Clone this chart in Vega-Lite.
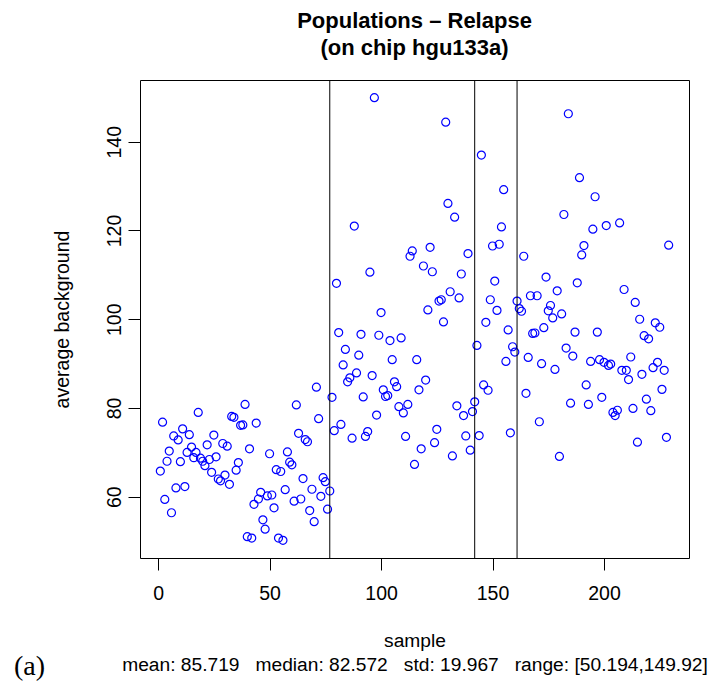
{
  "$schema": "https://vega.github.io/schema/vega-lite/v6.json",
  "width": 549,
  "height": 478,
  "autosize": {"type": "none"},
  "padding": {"left": 140, "top": 80, "right": 21, "bottom": 126},
  "background": "white",
  "title": {
    "text": ["Populations – Relapse", "(on chip hgu133a)"],
    "font": "Liberation Sans",
    "fontSize": 22,
    "fontWeight": "bold",
    "color": "black",
    "anchor": "middle",
    "frame": "group",
    "baseline": "bottom",
    "lineHeight": 27,
    "offset": 23,
    "dy": 25
  },
  "config": {
    "view": {"stroke": "black", "strokeWidth": 1},
    "font": "Liberation Sans",
    "axis": {
      "grid": false,
      "domain": false,
      "tickColor": "black",
      "tickSize": 12,
      "tickWidth": 1,
      "labelColor": "black",
      "labelFont": "Liberation Sans",
      "labelFontSize": 19.5,
      "labelFlush": false,
      "labelOverlap": false,
      "titleColor": "black",
      "titleFont": "Liberation Sans",
      "titleFontSize": 19.2,
      "titleFontWeight": "normal"
    }
  },
  "resolve": {"axis": {"x": "independent"}},
  "layer": [
    {
      "data": {"values": [
        {"s":1,"v":65.8},{"s":2,"v":76.8},{"s":3,"v":59.4},{"s":4,"v":68},{"s":5,"v":70.3},{"s":6,"v":56.4},{"s":7,"v":73.7},{"s":8,"v":62},{"s":9,"v":72.8},{"s":10,"v":67.9},
        {"s":11,"v":75.3},{"s":12,"v":62.3},{"s":13,"v":70},{"s":14,"v":74},{"s":15,"v":71.2},{"s":16,"v":68.8},{"s":17,"v":70},{"s":18,"v":79},{"s":19,"v":68.7},{"s":20,"v":68},
        {"s":21,"v":67},{"s":22,"v":71.7},{"s":23,"v":68.4},{"s":24,"v":65.5},{"s":25,"v":73.9},{"s":26,"v":69},{"s":27,"v":64},{"s":28,"v":63.6},{"s":29,"v":72},{"s":30,"v":64.9},
        {"s":31,"v":71.4},{"s":32,"v":62.8},{"s":33,"v":78.1},{"s":34,"v":77.9},{"s":35,"v":66},{"s":36,"v":67.7},{"s":37,"v":76.1},{"s":38,"v":76.2},{"s":39,"v":80.8},{"s":40,"v":51},
        {"s":41,"v":70.8},{"s":42,"v":50.7},{"s":43,"v":58.3},{"s":44,"v":76.6},{"s":45,"v":59.5},{"s":46,"v":61},{"s":47,"v":54.8},{"s":48,"v":52.7},{"s":49,"v":60.2},{"s":50,"v":69.7},
        {"s":51,"v":60.4},{"s":52,"v":57.5},{"s":53,"v":66.1},{"s":54,"v":50.7},{"s":55,"v":65.7},{"s":56,"v":50.194},{"s":57,"v":61.6},{"s":58,"v":70.1},{"s":59,"v":67.8},{"s":60,"v":67.2},
        {"s":61,"v":59},{"s":62,"v":80.7},{"s":63,"v":74.3},{"s":64,"v":59.5},{"s":65,"v":64.1},{"s":66,"v":72.9},{"s":67,"v":72.4},{"s":68,"v":56.9},{"s":69,"v":61.7},{"s":70,"v":54.4},
        {"s":71,"v":84.7},{"s":72,"v":77.6},{"s":73,"v":60.1},{"s":74,"v":64.3},{"s":75,"v":63.4},{"s":76,"v":57.2},{"s":77,"v":61.3},{"s":78,"v":82.4},{"s":79,"v":74.9},{"s":80,"v":108.1},
        {"s":81,"v":97},{"s":82,"v":76.3},{"s":83,"v":89.7},{"s":84,"v":93.2},{"s":85,"v":85.9},{"s":86,"v":86.8},{"s":87,"v":73.2},{"s":88,"v":121},{"s":89,"v":87.9},{"s":90,"v":91.9},
        {"s":91,"v":96.6},{"s":92,"v":82.5},{"s":93,"v":73.6},{"s":94,"v":74.7},{"s":95,"v":110.6},{"s":96,"v":87.3},{"s":97,"v":149.92},{"s":98,"v":78.4},{"s":99,"v":96.4},{"s":100,"v":101.5},
        {"s":101,"v":84.1},{"s":102,"v":82.6},{"s":103,"v":82.8},{"s":104,"v":95.2},{"s":105,"v":90.9},{"s":106,"v":85.9},{"s":107,"v":84.8},{"s":108,"v":80.3},{"s":109,"v":95.8},{"s":110,"v":78.9},
        {"s":111,"v":73.6},{"s":112,"v":80.8},{"s":113,"v":114.2},{"s":114,"v":115.4},{"s":115,"v":67.3},{"s":116,"v":90.9},{"s":117,"v":84.1},{"s":118,"v":70.8},{"s":119,"v":112},{"s":120,"v":86.3},
        {"s":121,"v":102.1},{"s":122,"v":116.2},{"s":123,"v":110.7},{"s":124,"v":72.2},{"s":125,"v":75.2},{"s":126,"v":104.1},{"s":127,"v":104.4},{"s":128,"v":99.4},{"s":129,"v":144.4},{"s":130,"v":126.1},
        {"s":131,"v":106.2},{"s":132,"v":69.2},{"s":133,"v":123},{"s":134,"v":80.5},{"s":135,"v":104.8},{"s":136,"v":110.2},{"s":137,"v":78.3},{"s":138,"v":73.7},{"s":139,"v":114.8},{"s":140,"v":70.5},
        {"s":141,"v":79.2},{"s":142,"v":81.4},{"s":143,"v":94.1},{"s":144,"v":73.8},{"s":145,"v":137},{"s":146,"v":85.2},{"s":147,"v":99.3},{"s":148,"v":84},{"s":149,"v":104.4},{"s":150,"v":116.5},
        {"s":151,"v":108.6},{"s":152,"v":102},{"s":153,"v":116.9},{"s":154,"v":120.8},{"s":155,"v":129.2},{"s":156,"v":90.5},{"s":157,"v":97.6},{"s":158,"v":74.4},{"s":159,"v":93.8},{"s":160,"v":92.6},
        {"s":161,"v":104.1},{"s":162,"v":102.4},{"s":163,"v":101.8},{"s":164,"v":114.2},{"s":165,"v":83.3},{"s":166,"v":91.4},{"s":167,"v":105.3},{"s":168,"v":96.8},{"s":169,"v":96.9},{"s":170,"v":105.3},
        {"s":171,"v":76.9},{"s":172,"v":90},{"s":173,"v":98.1},{"s":174,"v":109.5},{"s":175,"v":101.9},{"s":176,"v":103.1},{"s":177,"v":100.3},{"s":178,"v":88.7},{"s":179,"v":106.4},{"s":180,"v":69.1},
        {"s":181,"v":101.2},{"s":182,"v":123.6},{"s":183,"v":93.5},{"s":184,"v":146.3},{"s":185,"v":81.1},{"s":186,"v":91.7},{"s":187,"v":97.1},{"s":188,"v":108.2},{"s":189,"v":131.9},{"s":190,"v":114.5},
        {"s":191,"v":116.6},{"s":192,"v":85.2},{"s":193,"v":80.8},{"s":194,"v":90.5},{"s":195,"v":120.3},{"s":196,"v":127.6},{"s":197,"v":97.1},{"s":198,"v":90.9},{"s":199,"v":82.4},{"s":200,"v":90.3},
        {"s":201,"v":121.1},{"s":202,"v":89.6},{"s":203,"v":89.9},{"s":204,"v":79},{"s":205,"v":78.3},{"s":206,"v":79.5},{"s":207,"v":121.7},{"s":208,"v":88.5},{"s":209,"v":106.7},{"s":210,"v":88.5},
        {"s":211,"v":86.4},{"s":212,"v":91.5},{"s":213,"v":79.9},{"s":214,"v":103.8},{"s":215,"v":72.3},{"s":216,"v":100},{"s":217,"v":87.6},{"s":218,"v":96.3},{"s":219,"v":82},{"s":220,"v":95.6},
        {"s":221,"v":79.4},{"s":222,"v":89.1},{"s":223,"v":99.2},{"s":224,"v":90.3},{"s":225,"v":98.2},{"s":226,"v":84.2},{"s":227,"v":88.5},{"s":228,"v":73.4},{"s":229,"v":116.7}
      ]},
      "mark": {"type": "point", "shape": "circle", "filled": false, "stroke": "#0000ff", "strokeWidth": 1.2, "size": 64, "opacity": 1},
      "encoding": {
        "x": {
          "field": "s", "type": "quantitative",
          "scale": {"domain": [-8.12, 238.12], "nice": false, "zero": false},
          "axis": {
            "orient": "bottom",
            "values": [0, 50, 100, 150, 200],
            "labelPadding": 14,
            "title": ["sample", "mean:\u00a085.719\u00a0\u00a0\u00a0median:\u00a082.572\u00a0\u00a0\u00a0std:\u00a019.967\u00a0\u00a0\u00a0range:\u00a0[50.194,149.92]"],
            "titleLineHeight": 24,
            "titleX": 274.5,
            "titleY": 88,
            "titleAlign": "center",
            "titleAnchor": null,
            "titleBaseline": "alphabetic"
          }
        },
        "y": {
          "field": "v", "type": "quantitative",
          "scale": {"domain": [46.205, 153.909], "nice": false, "zero": false},
          "axis": {
            "values": [60, 80, 100, 120, 140],
            "labelAngle": -90,
            "labelAlign": "center",
            "labelBaseline": "alphabetic",
            "labelPadding": 8,
            "title": "average background",
            "titleFontSize": 19.5,
            "titleAngle": -90,
            "titleX": -72,
            "titleY": 239,
            "titleAlign": "center",
            "titleBaseline": "alphabetic"
          }
        }
      }
    },
    {
      "data": {"values": [{"b": 77}, {"b": 142}, {"b": 161}]},
      "mark": {"type": "rule", "color": "black", "strokeWidth": 1},
      "encoding": {
        "x": {
          "field": "b", "type": "quantitative",
          "axis": {
            "orient": "bottom",
            "labels": false,
            "ticks": false,
            "domain": false,
            "title": "(a)",
            "titleFont": "Liberation Serif",
            "titleFontSize": 28,
            "titleX": -111,
            "titleY": 116,
            "titleAlign": "center",
            "titleAnchor": null,
            "titleBaseline": "alphabetic"
          }
        }
      }
    }
  ]
}
